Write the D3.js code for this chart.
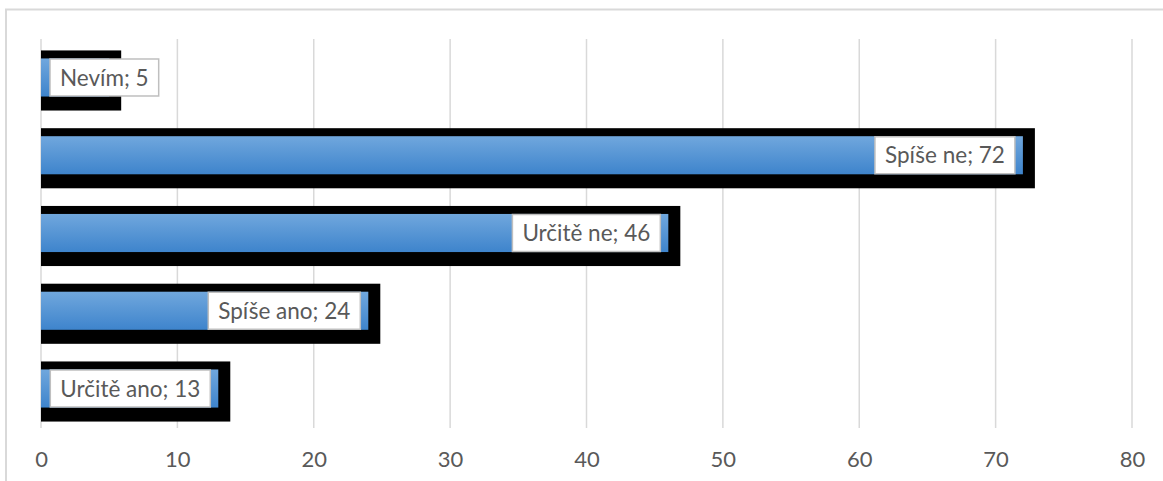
<!DOCTYPE html>
<html>
<head>
<meta charset="utf-8">
<script src="https://cdn.jsdelivr.net/npm/d3@7"></script>
<style>
html,body{margin:0;padding:0;background:#fff;}
svg{display:block;}
text{font-family:Lato, "Open Sans", sans-serif;}
</style>
</head>
<body>
<svg id="chart" width="1163" height="481"></svg>
<script>
const categories = ["Nevím", "Spíše ne", "Určitě ne", "Spíše ano", "Určitě ano"];
const values = [5, 72, 46, 24, 13];
const xTicks = [0, 10, 20, 30, 40, 50, 60, 70, 80];

const svg = d3.select("#chart");
const W = 1163, H = 481;

svg.append("rect").attr("x", 6).attr("y", 9.5).attr("width", W + 20).attr("height", H + 20)
  .attr("fill", "#fff").attr("stroke", "#d9d9d9").attr("stroke-width", 2);

const x = d3.scaleLinear().domain([0, 80]).range([41, 1132]);
const y = d3.scaleBand().domain(categories).range([39, 427]).paddingInner(0.51).paddingOuter(0.25);

const defs = svg.append("defs");
const grad = defs.append("linearGradient").attr("id", "bargrad").attr("x1", 0).attr("y1", 0).attr("x2", 0).attr("y2", 1);
grad.append("stop").attr("offset", "0%").attr("stop-color", "#70a7dd");
grad.append("stop").attr("offset", "100%").attr("stop-color", "#3e84cc");

// gridlines
svg.append("g").selectAll("line").data(xTicks).join("line")
  .attr("x1", d => x(d)).attr("x2", d => x(d))
  .attr("y1", 39).attr("y2", 428)
  .attr("stroke", "#d9d9d9").attr("stroke-width", 1.5);

// axis labels
const axis = d3.axisBottom(x).tickValues(xTicks).tickSize(0).tickPadding(0).tickFormat(d3.format("d"));
const ag = svg.append("g").attr("transform", "translate(0,451)").call(axis);
ag.select(".domain").remove();
ag.selectAll("text").attr("fill", "#595959").style("font-size", "22px")
  .attr("dy", "0.71em").attr("font-family", "Lato, 'Open Sans', sans-serif");

const data = categories.map((c, i) => ({c, v: values[i]}));

// black shadow
svg.append("g").selectAll("rect").data(data).join("rect")
  .attr("x", x(0))
  .attr("y", d => y(d.c) - 8)
  .attr("width", d => x(d.v) - x(0) + 12)
  .attr("height", y.bandwidth() + 22)
  .attr("fill", "#000");

// bars
svg.append("g").selectAll("rect").data(data).join("rect")
  .attr("x", x(0))
  .attr("y", d => y(d.c))
  .attr("width", d => x(d.v) - x(0))
  .attr("height", y.bandwidth())
  .attr("fill", "url(#bargrad)");

// labels
const lg = svg.append("g");
data.forEach(d => {
  const g = lg.append("g");
  const t = g.append("text").text(d.c + "; " + d.v)
    .attr("fill", "#595959").style("font-size", "22.5px");
  const tw = t.node().getComputedTextLength();
  const bw = tw + 20, bh = 37;
  let right = x(d.v) - 8;
  let left = right - bw;
  if (left < 50) { left = 50; }
  const cy = y(d.c) + y.bandwidth() / 2;
  g.insert("rect", "text").attr("x", left).attr("y", cy - bh / 2).attr("width", bw).attr("height", bh)
    .attr("fill", "#fff").attr("stroke", "#bfbfbf").attr("stroke-width", 1.5);
  t.attr("x", left + 10).attr("y", cy).attr("dy", "0.36em");
});
</script>
</body>
</html>
